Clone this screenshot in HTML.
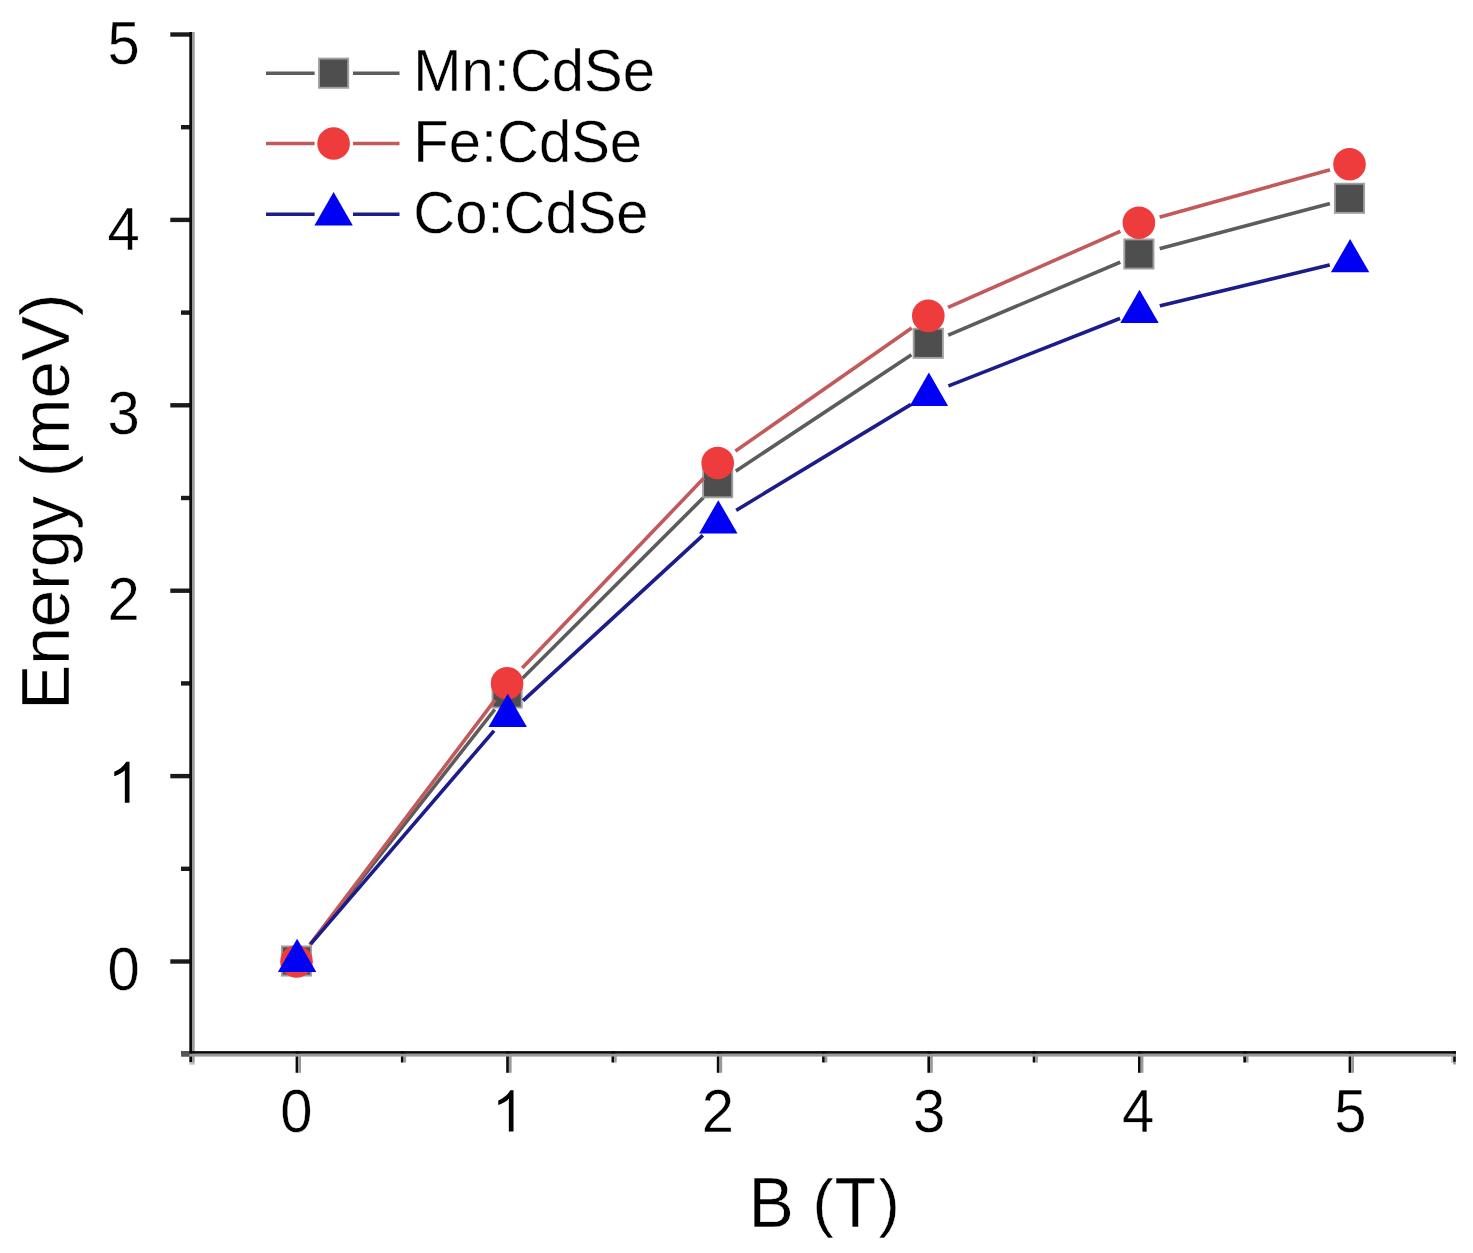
<!DOCTYPE html>
<html><head><meta charset="utf-8"><title>Energy vs B</title>
<style>html,body{margin:0;padding:0;background:#fff;width:1473px;height:1253px;overflow:hidden}svg{display:block}text{font-family:"Liberation Sans",sans-serif;stroke:#fff;stroke-width:0.4px}</style>
</head><body>
<svg width="1473" height="1253" viewBox="0 0 1473 1253" font-family="Liberation Sans, sans-serif" fill="#000"><defs><mask id="mmn" maskUnits="userSpaceOnUse" x="0" y="0" width="1473" height="1253"><rect width="1473" height="1253" fill="#fff"/><circle cx="297.1" cy="961.0" r="21" fill="#000"/><circle cx="507.7" cy="693.0" r="21" fill="#000"/><circle cx="718.3" cy="482.7" r="21" fill="#000"/><circle cx="928.9" cy="343.3" r="21" fill="#000"/><circle cx="1139.5" cy="254.0" r="21" fill="#000"/><circle cx="1350.1" cy="198.3" r="21" fill="#000"/></mask><mask id="mfe" maskUnits="userSpaceOnUse" x="0" y="0" width="1473" height="1253"><rect width="1473" height="1253" fill="#fff"/><circle cx="297.1" cy="961.5" r="21" fill="#000"/><circle cx="507.7" cy="683.2" r="21" fill="#000"/><circle cx="718.3" cy="463.0" r="21" fill="#000"/><circle cx="928.9" cy="315.9" r="21" fill="#000"/><circle cx="1139.5" cy="222.8" r="21" fill="#000"/><circle cx="1350.1" cy="164.2" r="21" fill="#000"/></mask><mask id="mco" maskUnits="userSpaceOnUse" x="0" y="0" width="1473" height="1253"><rect width="1473" height="1253" fill="#fff"/><circle cx="297.1" cy="959.8" r="21" fill="#000"/><circle cx="507.7" cy="714.8" r="21" fill="#000"/><circle cx="718.3" cy="521.2" r="21" fill="#000"/><circle cx="928.9" cy="393.6" r="21" fill="#000"/><circle cx="1139.5" cy="310.8" r="21" fill="#000"/><circle cx="1350.1" cy="260.0" r="21" fill="#000"/></mask></defs>
<rect x="295.60" y="1051.10" width="2.7" height="21.70" fill="#0a0a0a"/><rect x="298.30" y="1051.10" width="2.7" height="21.70" fill="#9a9a9a"/>
<rect x="506.20" y="1051.10" width="2.7" height="21.70" fill="#0a0a0a"/><rect x="508.90" y="1051.10" width="2.7" height="21.70" fill="#9a9a9a"/>
<rect x="716.80" y="1051.10" width="2.7" height="21.70" fill="#0a0a0a"/><rect x="719.50" y="1051.10" width="2.7" height="21.70" fill="#9a9a9a"/>
<rect x="927.40" y="1051.10" width="2.7" height="21.70" fill="#0a0a0a"/><rect x="930.10" y="1051.10" width="2.7" height="21.70" fill="#9a9a9a"/>
<rect x="1138.00" y="1051.10" width="2.7" height="21.70" fill="#0a0a0a"/><rect x="1140.70" y="1051.10" width="2.7" height="21.70" fill="#9a9a9a"/>
<rect x="1348.60" y="1051.10" width="2.7" height="21.70" fill="#0a0a0a"/><rect x="1351.30" y="1051.10" width="2.7" height="21.70" fill="#9a9a9a"/>
<rect x="400.90" y="1051.10" width="2.7" height="11.40" fill="#0a0a0a"/><rect x="403.60" y="1051.10" width="2.5" height="11.40" fill="#9a9a9a"/>
<rect x="611.50" y="1051.10" width="2.7" height="11.40" fill="#0a0a0a"/><rect x="614.20" y="1051.10" width="2.5" height="11.40" fill="#9a9a9a"/>
<rect x="822.10" y="1051.10" width="2.7" height="11.40" fill="#0a0a0a"/><rect x="824.80" y="1051.10" width="2.5" height="11.40" fill="#9a9a9a"/>
<rect x="1032.70" y="1051.10" width="2.7" height="11.40" fill="#0a0a0a"/><rect x="1035.40" y="1051.10" width="2.5" height="11.40" fill="#9a9a9a"/>
<rect x="1243.30" y="1051.10" width="2.7" height="11.40" fill="#0a0a0a"/><rect x="1246.00" y="1051.10" width="2.5" height="11.40" fill="#9a9a9a"/>
<rect x="1451" y="1051.1" width="2.3" height="12" fill="#ccc"/><rect x="1453.2" y="1051.1" width="2.6" height="10.8" fill="#0a0a0a"/><rect x="1453.2" y="1061.9" width="2.6" height="2.6" fill="#999"/>
<rect x="170.3" y="959.30" width="21" height="4.4" fill="#1a1a1a"/>
<rect x="170.3" y="773.90" width="21" height="4.4" fill="#1a1a1a"/>
<rect x="170.3" y="588.50" width="21" height="4.4" fill="#1a1a1a"/>
<rect x="170.3" y="403.10" width="21" height="4.4" fill="#1a1a1a"/>
<rect x="170.3" y="217.70" width="21" height="4.4" fill="#1a1a1a"/>
<rect x="170.3" y="32.30" width="21" height="4.4" fill="#1a1a1a"/>
<rect x="181" y="866.60" width="10" height="4.4" fill="#1a1a1a"/>
<rect x="181" y="681.20" width="10" height="4.4" fill="#1a1a1a"/>
<rect x="181" y="495.80" width="10" height="4.4" fill="#1a1a1a"/>
<rect x="181" y="310.40" width="10" height="4.4" fill="#1a1a1a"/>
<rect x="181" y="125.00" width="10" height="4.4" fill="#1a1a1a"/>
<rect x="189.30" y="32.00" width="2.7" height="1030.00" fill="#0a0a0a"/><rect x="192.00" y="32.00" width="2.7" height="1030.00" fill="#9a9a9a"/>
<rect x="189.3" y="1062" width="5.4" height="2.6" fill="#bbb"/>
<rect x="181.20" y="1051.10" width="1274.60" height="2.7" fill="#0a0a0a"/><rect x="181.20" y="1053.80" width="1274.60" height="2.8" fill="#9a9a9a"/>
<rect x="181.2" y="1051.1" width="8.1" height="5.5" fill="#555"/>
<text transform="translate(139.70,989.80) scale(1,1.045)" text-anchor="end" font-size="58">0</text>
<path transform="translate(107.90,802.70) scale(0.028320,-0.027896)" d="M763,0L598,0L598,1160Q470,1035 225,945L225,1110Q520,1240 647,1472L763,1472Z"/>
<text transform="translate(139.70,620.10) scale(1,1.045)" text-anchor="end" font-size="58">2</text>
<text transform="translate(139.70,434.20) scale(1,1.045)" text-anchor="end" font-size="58">3</text>
<text transform="translate(139.70,249.50) scale(1,1.045)" text-anchor="end" font-size="58">4</text>
<text transform="translate(139.70,64.00) scale(1,1.045)" text-anchor="end" font-size="58">5</text>
<text transform="translate(296.30,1131.60) scale(1,1.045)" text-anchor="middle" font-size="58">0</text>
<path transform="translate(491.90,1131.40) scale(0.028320,-0.027896)" d="M763,0L598,0L598,1160Q470,1035 225,945L225,1110Q520,1240 647,1472L763,1472Z"/>
<text transform="translate(717.80,1131.60) scale(1,1.045)" text-anchor="middle" font-size="58">2</text>
<text transform="translate(929.10,1131.60) scale(1,1.045)" text-anchor="middle" font-size="58">3</text>
<text transform="translate(1138.00,1131.60) scale(1,1.045)" text-anchor="middle" font-size="58">4</text>
<text transform="translate(1350.30,1131.60) scale(1,1.045)" text-anchor="middle" font-size="58">5</text>
<text transform="translate(748.45,1226.60) scale(1,1.03)" text-anchor="start" font-size="68">B</text>
<text transform="translate(834.50,1226.60) scale(1,1.03)" text-anchor="start" font-size="68">T</text>
<text transform="translate(812.4,1224.8) scale(0.94,0.966)" font-size="68">(</text>
<text transform="translate(878.6,1224.8) scale(0.94,0.966)" font-size="68">)</text>
<text transform="translate(69,501.6) rotate(-90) scale(1,1.02)" text-anchor="middle" font-size="67.5">Energy (meV)</text>
<polyline points="297.1,961.0 507.7,693.0 718.3,482.7 928.9,343.3 1139.5,254.0 1350.1,198.3" fill="none" stroke="#5c5c5c" stroke-width="3.6" stroke-linejoin="round" mask="url(#mmn)"/>
<rect x="281.9" y="946.4" width="29.2" height="29.2" fill="#4e4e4e" stroke="#a0a0a0" stroke-width="1.9"/><rect x="492.5" y="678.4" width="29.2" height="29.2" fill="#4e4e4e" stroke="#a0a0a0" stroke-width="1.9"/><rect x="703.1" y="468.1" width="29.2" height="29.2" fill="#4e4e4e" stroke="#a0a0a0" stroke-width="1.9"/><rect x="913.7" y="328.7" width="29.2" height="29.2" fill="#4e4e4e" stroke="#a0a0a0" stroke-width="1.9"/><rect x="1124.3" y="239.4" width="29.2" height="29.2" fill="#4e4e4e" stroke="#a0a0a0" stroke-width="1.9"/><rect x="1334.9" y="183.7" width="29.2" height="29.2" fill="#4e4e4e" stroke="#a0a0a0" stroke-width="1.9"/>
<polyline points="297.1,961.5 507.7,683.2 718.3,463.0 928.9,315.9 1139.5,222.8 1350.1,164.2" fill="none" stroke="#c2595a" stroke-width="3.6" stroke-linejoin="round" mask="url(#mfe)"/>
<circle cx="296.5" cy="961.5" r="16.3" fill="#ee3b3b"/><circle cx="507.1" cy="683.2" r="16.3" fill="#ee3b3b"/><circle cx="717.7" cy="463.0" r="16.3" fill="#ee3b3b"/><circle cx="928.3" cy="315.9" r="16.3" fill="#ee3b3b"/><circle cx="1138.9" cy="222.8" r="16.3" fill="#ee3b3b"/><circle cx="1349.5" cy="164.2" r="16.3" fill="#ee3b3b"/>
<polyline points="297.1,959.8 507.7,714.8 718.3,521.2 928.9,393.6 1139.5,310.8 1350.1,260.0" fill="none" stroke="#1c1c8a" stroke-width="3.6" stroke-linejoin="round" mask="url(#mco)"/>
<polygon points="297.1,938.8 316.3,972.1 277.9,972.1" fill="#0000f5"/><polygon points="507.7,693.8 526.9,727.1 488.5,727.1" fill="#0000f5"/><polygon points="718.3,500.2 737.5,533.5 699.1,533.5" fill="#0000f5"/><polygon points="928.9,372.6 948.1,405.9 909.7,405.9" fill="#0000f5"/><polygon points="1139.5,289.8 1158.7,323.1 1120.3,323.1" fill="#0000f5"/><polygon points="1350.1,239.0 1369.3,272.3 1330.9,272.3" fill="#0000f5"/>
<line x1="266" y1="73.2" x2="314.6" y2="73.2" stroke="#5c5c5c" stroke-width="3.6"/>
<line x1="353" y1="73.2" x2="399.5" y2="73.2" stroke="#5c5c5c" stroke-width="3.6"/>
<rect x="319.0" y="58.6" width="29.2" height="29.2" fill="#4e4e4e" stroke="#a0a0a0" stroke-width="1.9"/>
<text transform="translate(413.30,91.30) scale(1,1.012)" text-anchor="start" font-size="58">Mn:CdSe</text>
<line x1="266" y1="143.5" x2="314.6" y2="143.5" stroke="#c2595a" stroke-width="3.6"/>
<line x1="353" y1="143.5" x2="399.5" y2="143.5" stroke="#c2595a" stroke-width="3.6"/>
<circle cx="333.6" cy="143.5" r="16.3" fill="#ee3b3b"/>
<text transform="translate(413.30,161.70) scale(1,1.012)" text-anchor="start" font-size="58">Fe:CdSe</text>
<line x1="266" y1="214.3" x2="314.6" y2="214.3" stroke="#1c1c8a" stroke-width="3.6"/>
<line x1="353" y1="214.3" x2="399.5" y2="214.3" stroke="#1c1c8a" stroke-width="3.6"/>
<polygon points="333.6,192.1 352.8,225.4 314.4,225.4" fill="#0000f5"/>
<text transform="translate(413.30,233.00) scale(1,1.012)" text-anchor="start" font-size="58">Co:CdSe</text></svg>
</body></html>
